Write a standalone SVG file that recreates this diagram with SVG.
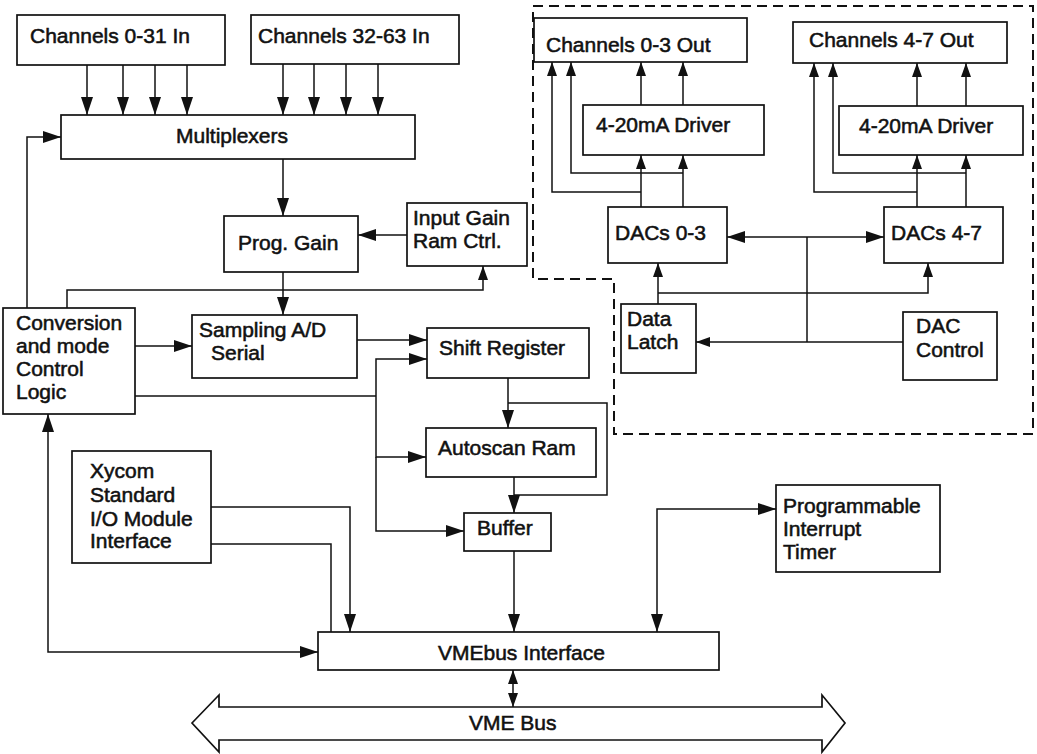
<svg xmlns="http://www.w3.org/2000/svg" width="1037" height="754" viewBox="0 0 1037 754">
<style>
.box{fill:#fff;stroke:#111;stroke-width:1.7}
.ln{fill:none;stroke:#111;stroke-width:1.5}
.t{font-family:"Liberation Sans",Arial,sans-serif;font-size:21px;fill:#111;stroke:#111;stroke-width:0.55}
.m{text-anchor:middle}
.dash{fill:none;stroke:#111;stroke-width:2;stroke-dasharray:10,6}
</style>
<defs>
<marker id="ah" viewBox="0 0 18 12" refX="18" refY="6" markerWidth="18" markerHeight="12" markerUnits="userSpaceOnUse" orient="auto-start-reverse"><path d="M0,0 L18,6 L0,12 Z" fill="#111"/></marker>
<marker id="as" viewBox="0 0 14 10" refX="14" refY="5" markerWidth="14" markerHeight="10" markerUnits="userSpaceOnUse" orient="auto-start-reverse"><path d="M0,0 L14,5 L0,10 Z" fill="#111"/></marker>
</defs>
<rect width="1037" height="754" fill="#fff"/>
<path class="dash" d="M533,6 H1033 V434 H614 V279 H533 Z"/>
<g id="connectors">
<path class="ln" marker-end="url(#ah)" d="M87,65 V115"/>
<path class="ln" marker-end="url(#ah)" d="M123,65 V115"/>
<path class="ln" marker-end="url(#ah)" d="M155,65 V115"/>
<path class="ln" marker-end="url(#ah)" d="M187,65 V115"/>
<path class="ln" marker-end="url(#ah)" d="M283,64 V115"/>
<path class="ln" marker-end="url(#ah)" d="M314,64 V115"/>
<path class="ln" marker-end="url(#ah)" d="M346,64 V115"/>
<path class="ln" marker-end="url(#ah)" d="M378,64 V115"/>
<path class="ln" marker-end="url(#ah)" d="M27,308 V137 H61"/>
<path class="ln" marker-end="url(#ah)" d="M283,159 V216"/>
<path class="ln" marker-end="url(#ah)" d="M407,235 H358"/>
<path class="ln" marker-end="url(#ah)" d="M283,272 V315"/>
<path class="ln" marker-end="url(#as)" d="M67,308 V290 H483 V266"/>
<path class="ln" marker-end="url(#ah)" d="M135,346 H192"/>
<path class="ln" marker-end="url(#ah)" d="M357,340 H427"/>
<path class="ln" d="M135,396 H376"/>
<path class="ln" marker-end="url(#ah)" d="M376,396 V359 H427"/>
<path class="ln" marker-end="url(#ah)" d="M376,396 V457 H426"/>
<path class="ln" marker-end="url(#ah)" d="M376,457 V531 H464"/>
<path class="ln" marker-end="url(#ah)" d="M508,378 V428"/>
<path class="ln" d="M508,403 H607 V495 H514"/>
<path class="ln" marker-end="url(#ah)" d="M514,477 V513"/>
<path class="ln" marker-end="url(#ah)" d="M514,551 V632"/>
<path class="ln" marker-end="url(#ah)" d="M211,507 H350 V632"/>
<path class="ln" d="M211,544 H331 V632"/>
<path class="ln" marker-start="url(#ah)" marker-end="url(#ah)" d="M318,652 H48 V414"/>
<path class="ln" marker-start="url(#ah)" marker-end="url(#ah)" d="M657,632 V509 H776"/>
<path class="ln" marker-start="url(#as)" marker-end="url(#as)" d="M513,670 V707"/>
<path class="ln" marker-end="url(#as)" d="M641,207 V155"/>
<path class="ln" marker-end="url(#as)" d="M683,207 V155"/>
<path class="ln" marker-end="url(#as)" d="M641,105 V62"/>
<path class="ln" marker-end="url(#as)" d="M683,105 V62"/>
<path class="ln" marker-end="url(#as)" d="M641,192 H552 V62"/>
<path class="ln" marker-end="url(#as)" d="M683,173 H571 V62"/>
<path class="ln" marker-end="url(#as)" d="M917,207 V155"/>
<path class="ln" marker-end="url(#as)" d="M966,207 V155"/>
<path class="ln" marker-end="url(#as)" d="M917,106 V63"/>
<path class="ln" marker-end="url(#as)" d="M966,106 V63"/>
<path class="ln" marker-end="url(#as)" d="M917,192 H814 V63"/>
<path class="ln" marker-end="url(#as)" d="M966,173 H833 V63"/>
<path class="ln" marker-start="url(#ah)" marker-end="url(#ah)" d="M727,237 H884"/>
<path class="ln" d="M807,237 V342"/>
<path class="ln" marker-end="url(#as)" d="M903,342 H696"/>
<path class="ln" marker-end="url(#as)" d="M658,304 V263"/>
<path class="ln" marker-end="url(#as)" d="M658,293 H928 V263"/>
</g>
<g id="ch0-31"><rect class="box" x="17" y="15" width="208" height="50"/><text class="t" x="30" y="43">Channels 0-31 In</text></g>
<g id="ch32-63"><rect class="box" x="251" y="15" width="208" height="49"/><text class="t" x="258" y="43">Channels 32-63 In</text></g>
<g id="mux"><rect class="box" x="61" y="115" width="354" height="44"/><text class="t m" x="232" y="143">Multiplexers</text></g>
<g id="proggain"><rect class="box" x="224" y="216" width="134" height="56"/><text class="t" x="238" y="250">Prog. Gain</text></g>
<g id="inputgain"><rect class="box" x="407" y="203" width="120" height="63"/><text class="t" x="413" y="225">Input Gain</text><text class="t" x="413" y="248">Ram Ctrl.</text></g>
<g id="conversion"><rect class="box" x="3" y="308" width="132" height="106"/><text class="t" x="16" y="330">Conversion</text><text class="t" x="16" y="353">and mode</text><text class="t" x="16" y="376">Control</text><text class="t" x="16" y="399">Logic</text></g>
<g id="sampling"><rect class="box" x="192" y="315" width="165" height="63"/><text class="t" x="199" y="337">Sampling A/D</text><text class="t" x="211" y="360">Serial</text></g>
<g id="shiftreg"><rect class="box" x="427" y="328" width="162" height="50"/><text class="t" x="439" y="355">Shift Register</text></g>
<g id="autoscan"><rect class="box" x="426" y="428" width="170" height="49"/><text class="t" x="438" y="455">Autoscan Ram</text></g>
<g id="buffer"><rect class="box" x="464" y="513" width="87" height="38"/><text class="t" x="477" y="535">Buffer</text></g>
<g id="xycom"><rect class="box" x="72" y="451" width="139" height="112"/><text class="t" x="90" y="478">Xycom</text><text class="t" x="90" y="502">Standard</text><text class="t" x="90" y="526">I/O Module</text><text class="t" x="90" y="548">Interface</text></g>
<g id="timer"><rect class="box" x="776" y="485" width="164" height="87"/><text class="t" x="783" y="513">Programmable</text><text class="t" x="783" y="536">Interrupt</text><text class="t" x="783" y="559">Timer</text></g>
<g id="vmeif"><rect class="box" x="318" y="632" width="401" height="38"/><text class="t" x="438" y="660">VMEbus Interface</text></g>
<g id="vmebus"><path class="box" d="M192,723 L219,695 L219,707 L822,707 L822,695 L845,723 L822,752 L822,740 L219,740 L219,752 Z"/><text class="t" x="469" y="730">VME Bus</text></g>
<g id="ch0-3out"><rect class="box" x="534" y="18" width="213" height="44"/><text class="t" x="546" y="52">Channels 0-3 Out</text></g>
<g id="ch4-7out"><rect class="box" x="793" y="22" width="214" height="41"/><text class="t" x="809" y="47">Channels 4-7 Out</text></g>
<g id="driver0"><rect class="box" x="583" y="105" width="181" height="50"/><text class="t" x="596" y="132">4-20mA Driver</text></g>
<g id="driver1"><rect class="box" x="839" y="106" width="184" height="49"/><text class="t" x="859" y="133">4-20mA Driver</text></g>
<g id="dacs0-3"><rect class="box" x="608" y="207" width="119" height="56"/><text class="t" x="615" y="240">DACs 0-3</text></g>
<g id="dacs4-7"><rect class="box" x="884" y="207" width="119" height="56"/><text class="t" x="891" y="240">DACs 4-7</text></g>
<g id="datalatch"><rect class="box" x="621" y="304" width="75" height="69"/><text class="t" x="627" y="326">Data</text><text class="t" x="627" y="349">Latch</text></g>
<g id="daccontrol"><rect class="box" x="903" y="312" width="94" height="68"/><text class="t" x="916" y="333">DAC</text><text class="t" x="916" y="357">Control</text></g>
</svg>
